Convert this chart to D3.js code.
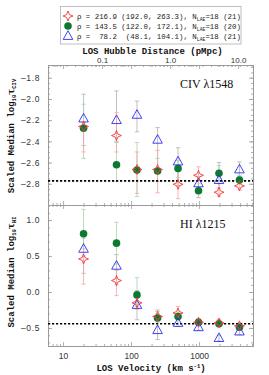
<!DOCTYPE html>
<html><head><meta charset="utf-8">
<script src="https://cdn.jsdelivr.net/npm/d3@7/dist/d3.min.js"></script>
<style>
html,body{margin:0;padding:0;background:#fff;}
svg{display:block;}
</style></head>
<body>
<script>
// ---------- data ----------
const velocity = [20, 61, 122, 245, 490, 980, 1960, 3920];

// CIV panel
const civRed    = [-2.26, -2.345, -2.665, -2.665, -2.805, -2.72, -2.88, -2.82];
const civRedLo  = [-2.50, -2.50, -2.89, -2.885, -2.94, -2.93, -2.915, -2.86];
const civRedHi  = [-2.225, -2.13, -2.50, -2.485, -2.64, -2.64, -2.80, -2.76];
const civGreen  = [-2.277, -2.62, -2.67, -2.68, -2.655, -2.865, -2.70, -2.765];
const civGreenLo= [-2.56, -2.78, -2.92, -2.78, -2.74, -2.93, -2.77, -2.80];
const civGreenHi= [-2.05, -2.41, -2.41, -2.56, -2.58, -2.80, -2.63, -2.72];
const civBlue   = [-2.185, -2.20, -2.15, -2.385, -2.59, -2.796, -2.765, -2.665];
const civBlueLo = [-2.44, -2.40, -2.31, -2.69, -2.82, -2.86, -2.84, -2.73];
const civBlueHi = [-1.955, -1.925, -2.02, -2.27, -2.46, -2.73, -2.60, -2.595];
const civLimit  = -2.773;

// HI panel
const hiRed     = [0.46, 0.16, -0.15, -0.34, -0.29, -0.42, -0.43, -0.47];
const hiRedLo   = [0.11, -0.05, -0.24, -0.40, -0.36, -0.47, -0.48, -0.52];
const hiRedHi   = [0.60, 0.30, -0.08, -0.27, -0.20, -0.37, -0.38, -0.43];
const hiGreen   = [0.81, 0.68, -0.04, -0.36, -0.34, -0.42, -0.44, -0.49];
const hiGreenLo = [0.50, 0.39, -0.20, -0.42, -0.39, -0.46, -0.48, -0.53];
const hiGreenHi = [1.15, 0.97, 0.20, -0.30, -0.29, -0.38, -0.40, -0.45];
const hiBlue    = [0.60, 0.365, -0.18, -0.53, -0.43, -0.49, -0.64, -0.55];
const hiBlueLo  = [0.26, 0.10, -0.385, -0.66, -0.48, -0.53, -0.68, -0.59];
const hiBlueHi  = [0.75, 0.52, 0.02, -0.25, -0.38, -0.45, -0.60, -0.51];
const hiLimit   = -0.44;

const legendLabels = [
  {pre:"\u03c1 = 216.9 (192.0, 263.3), N", sub:"LAE", post:"=18 (21)"},
  {pre:"\u03c1 = 143.5 (122.0, 172.1), N", sub:"LAE", post:"=18 (20)"},
  {pre:"\u03c1 =  78.2  (48.1, 104.1), N", sub:"LAE", post:"=18 (21)"}
];
const xTickVals = [10, 100, 1000];
const pMpcTicks = [0.1, 1, 10];
const pMpcLabels = ["0.1", "1.0", "10.0"];
const kmsPerPMpc = 375;
const civTicks = [-2.8, -2.6, -2.4, -2.2, -2.0, -1.8];
const hiTicks = [-0.5, 0.0, 0.5, 1.0];

// ---------- layout ----------
const W = 269, H = 375;
const L = 48, R = 253;
const topT = 65, mid = 205, botB = 346;
const axisCol = "#9a9a9a";
const redC = "#f23a3a", redE = "#f4a6a6";
const grnC = "#0b7a30", grnE = "#a6d4ae";
const bluC = "#2d2df5", bluE = "#b0b0b8";

const svg = d3.select("body").append("svg").attr("width", W).attr("height", H);

const x = d3.scaleLog().domain([6, 6200]).range([L, R]);
const xp = d3.scaleLog().domain([6 / kmsPerPMpc, 6200 / kmsPerPMpc]).range([L, R]);
const yC = d3.scaleLinear().domain([-3.0, -1.68]).range([mid, topT]);
const yH = d3.scaleLinear().domain([-0.75, 1.21]).range([botB, mid]);

const fmt1 = (d) => (d < -1e-9 ? "\u2013" : "") + Math.abs(d).toFixed(1);

function logMinors(dmin, dmax) {
  const out = [];
  for (let e = Math.floor(Math.log10(dmin)) ; e <= Math.ceil(Math.log10(dmax)); e++) {
    for (let m = 2; m <= 9; m++) {
      const v = m * Math.pow(10, e);
      if (v > dmin && v < dmax) out.push(v);
    }
  }
  return out;
}
function linMinors(d, step) {
  const out = [];
  const a = Math.ceil(d[0] / step - 1e-9), b = Math.floor(d[1] / step + 1e-9);
  for (let i = a; i <= b; i++) out.push(+(i * step).toFixed(4));
  return out;
}

function styleAxis(g) {
  g.selectAll(".domain").attr("stroke", axisCol).attr("stroke-width", 1);
  g.selectAll(".tick line").attr("stroke", axisCol).attr("stroke-width", 0.8);
  g.selectAll(".tick text").attr("fill", "#333").attr("font-family", "Liberation Sans, Arial, sans-serif")
    .attr("font-size", 8.5);
}

function drawPanel(ys, y0, y1, majors, minorStep) {
  const minorsX = logMinors(6, 6200);
  const gb = svg.append("g").attr("transform", `translate(0,${y1})`);
  gb.call(d3.axisBottom(x).tickValues(xTickVals).tickSize(-4).tickFormat(""));
  gb.append("g").call(d3.axisBottom(x).tickValues(minorsX).tickSize(-2).tickFormat(""))
    .select(".domain").remove();
  styleAxis(gb);
  const gt = svg.append("g").attr("transform", `translate(0,${y0})`);
  gt.call(d3.axisTop(x).tickValues(xTickVals).tickSize(-4).tickFormat(""));
  gt.append("g").call(d3.axisTop(x).tickValues(minorsX).tickSize(-2).tickFormat(""))
    .select(".domain").remove();
  styleAxis(gt);
  const gl = svg.append("g").attr("transform", `translate(${L},0)`);
  gl.call(d3.axisLeft(ys).tickValues(majors).tickSize(-4).tickPadding(8).tickFormat(fmt1));
  gl.append("g").call(d3.axisLeft(ys).tickValues(linMinors(ys.domain(), minorStep)).tickSize(-2).tickFormat(""))
    .select(".domain").remove();
  styleAxis(gl);
  gl.selectAll(".tick text").attr("font-size", 8.5).attr("letter-spacing", 0.6);
  const gr = svg.append("g").attr("transform", `translate(${R},0)`);
  gr.call(d3.axisRight(ys).tickValues(majors).tickSize(-4).tickFormat(""));
  gr.append("g").call(d3.axisRight(ys).tickValues(linMinors(ys.domain(), minorStep)).tickSize(-2).tickFormat(""))
    .select(".domain").remove();
  styleAxis(gr);
}

drawPanel(yC, topT, mid, civTicks, 0.05);
drawPanel(yH, mid, botB, hiTicks, 0.1);

// top pMpc axis labels + ticks
const gtop = svg.append("g").attr("transform", `translate(0,${topT})`);
gtop.call(d3.axisTop(xp).tickValues(pMpcTicks).tickSize(-4).tickPadding(2.5)
  .tickFormat((d, i) => pMpcLabels[i]));
gtop.append("g").call(d3.axisTop(xp).tickValues(logMinors(xp.domain()[0], xp.domain()[1])).tickSize(-2).tickFormat(""))
  .select(".domain").remove();
styleAxis(gtop);
gtop.selectAll(".tick text").attr("font-size", 8);

// bottom velocity labels
const gbl = svg.append("g").attr("transform", `translate(0,${botB})`);
gbl.call(d3.axisBottom(x).tickValues(xTickVals).tickSize(0).tickPadding(7).tickFormat(d3.format("d")));
gbl.select(".domain").remove();
styleAxis(gbl);

// ---------- marks ----------
const starPath = (r) => {
  const k = r * 0.28;
  return `M0,${-r}L${k},${-k}L${r},0L${k},${k}L0,${r}L${-k},${k}L${-r},0L${-k},${-k}Z`;
};
const triPath = "M0,-5.2L4.8,3.4L-4.8,3.4Z";

function errorBars(g, xs, ys, lo, hi, col) {
  const gg = g.append("g").attr("stroke", col).attr("stroke-width", 0.8).attr("fill", "none");
  velocity.forEach((v, i) => {
    const cx = xs(v);
    gg.append("line").attr("x1", cx).attr("x2", cx).attr("y1", ys(lo[i])).attr("y2", ys(hi[i]));
    gg.append("line").attr("x1", cx - 2.2).attr("x2", cx + 2.2).attr("y1", ys(lo[i])).attr("y2", ys(lo[i]));
    gg.append("line").attr("x1", cx - 2.2).attr("x2", cx + 2.2).attr("y1", ys(hi[i])).attr("y2", ys(hi[i]));
  });
}

function drawSeries(ys, red, redLo, redHi, grn, grnLo, grnHi, blu, bluLo, bluHi, limit, label, labelY) {
  const g = svg.append("g");
  errorBars(g, x, ys, bluLo, bluHi, bluE);
  errorBars(g, x, ys, grnLo, grnHi, grnE);
  errorBars(g, x, ys, redLo, redHi, redE);
  g.append("line").attr("x1", L).attr("x2", R).attr("y1", ys(limit)).attr("y2", ys(limit))
    .attr("stroke", "#000").attr("stroke-width", 1.6).attr("stroke-dasharray", "2.2,1.8");
  g.selectAll(".c").data(grn).join("circle")
    .attr("cx", (d, i) => x(velocity[i])).attr("cy", d => ys(d)).attr("r", 3.8).attr("fill", grnC);
  g.selectAll(".t").data(blu).join("path")
    .attr("d", triPath).attr("transform", (d, i) => `translate(${x(velocity[i])},${ys(d)})`)
    .attr("fill", "none").attr("stroke", bluC).attr("stroke-width", 0.9);
  g.selectAll(".s").data(red).join("path")
    .attr("d", starPath(5)).attr("transform", (d, i) => `translate(${x(velocity[i])},${ys(d)})`)
    .attr("fill", "none").attr("stroke", redC).attr("stroke-width", 0.9);
  svg.append("text").attr("x", 180).attr("y", labelY)
    .attr("font-family", "Liberation Serif, serif").attr("font-size", 12).attr("fill", "#111")
    .text(label);
}

drawSeries(yC, civRed, civRedLo, civRedHi, civGreen, civGreenLo, civGreenHi, civBlue, civBlueLo, civBlueHi,
  civLimit, "CIV \u03bb1548", 87.5);
drawSeries(yH, hiRed, hiRedLo, hiRedHi, hiGreen, hiGreenLo, hiGreenHi, hiBlue, hiBlueLo, hiBlueHi,
  hiLimit, "HI \u03bb1215", 228);

// ---------- axis titles ----------
const titleFont = "Liberation Mono, monospace";
svg.append("text").attr("x", (L + R) / 2 + 2).attr("y", 54).attr("text-anchor", "middle")
  .attr("font-family", titleFont).attr("font-weight", "bold").attr("font-size", 9).attr("fill", "#111")
  .text("LOS Hubble Distance (pMpc)");

const bt = svg.append("text").attr("x", 151).attr("y", 371).attr("text-anchor", "middle")
  .attr("font-family", titleFont).attr("font-weight", "bold").attr("font-size", 9).attr("fill", "#111");
bt.append("tspan").text("LOS Velocity (km s");
bt.append("tspan").attr("font-size", 5.5).attr("dy", -3.5).text("-1");
bt.append("tspan").attr("dy", 3.5).text(")");

function yTitle(cy, sub) {
  const t = svg.append("text").attr("transform", `translate(14,${cy}) rotate(-90)`).attr("text-anchor", "middle")
    .attr("font-family", titleFont).attr("font-weight", "bold").attr("font-size", 9).attr("fill", "#111");
  t.append("tspan").text("Scaled Median log");
  t.append("tspan").attr("font-size", 5.5).attr("dy", 2).text("10");
  t.append("tspan").attr("dy", -2).attr("font-family", "DejaVu Serif, serif").text("\u03c4");
  t.append("tspan").attr("font-size", 5.5).attr("dy", 2).text(sub);
}
yTitle(136, "CIV");
yTitle(272, "HI");

// ---------- legend ----------
const lg = svg.append("g");
lg.append("rect").attr("x", 60.5).attr("y", 6.5).attr("width", 180.5).attr("height", 37.5)
  .attr("fill", "#fff").attr("stroke", "#b0b0b0").attr("stroke-width", 0.8);
const rowY = [16, 26, 36];
lg.append("path").attr("d", starPath(5)).attr("transform", `translate(68,${rowY[0]})`)
  .attr("fill", "none").attr("stroke", redC).attr("stroke-width", 0.9);
lg.append("circle").attr("cx", 68).attr("cy", rowY[1]).attr("r", 3.8).attr("fill", grnC);
lg.append("path").attr("d", triPath).attr("transform", `translate(68,${rowY[2]})`)
  .attr("fill", "none").attr("stroke", bluC).attr("stroke-width", 0.9);
legendLabels.forEach((l, i) => {
  const t = lg.append("text").attr("x", 77).attr("y", rowY[i] + 2.8)
    .attr("font-family", titleFont).attr("font-size", 7.4).attr("fill", "#222")
    .style("white-space", "pre").attr("xml:space", "preserve");
  t.append("tspan").text(l.pre);
  t.append("tspan").attr("font-size", 4.8).attr("dy", 1.8).text(l.sub);
  t.append("tspan").attr("dy", -1.8).text(l.post);
});
</script>
</body></html>
